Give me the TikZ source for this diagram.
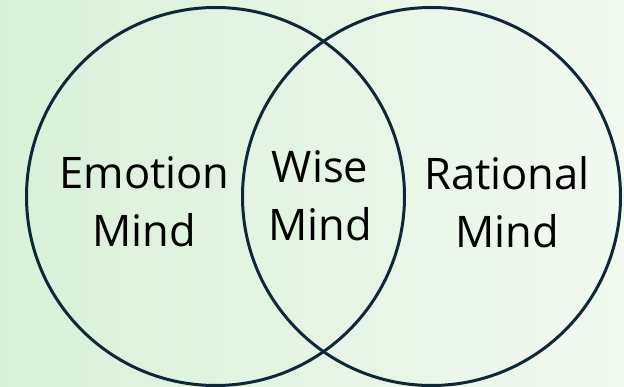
\documentclass[tikz,border=0pt]{standalone}
\usepackage{fontspec}
\setmainfont{Open Sans}
\definecolor{bgleft}{RGB}{217,240,216}
\definecolor{bgright}{RGB}{241,249,240}
\definecolor{ringcol}{RGB}{14,40,58}
\tikzset{
  ring/.style={draw=ringcol, line width=3pt, circle, minimum size=378pt, inner sep=0pt},
  lbl/.style={align=center, font=\fontsize{43.5}{58}\selectfont, text=black, inner sep=0pt}
}
\begin{document}
\begin{tikzpicture}[x=1pt,y=-1pt]
\useasboundingbox (0,0) rectangle (624,387);
\shade[left color=bgleft, right color=bgright] (0,0) rectangle (624,387);
\node[ring] (left) at (215.5,196.5) {};
\node[ring] (right) at (431.5,196.5) {};
\node[lbl] (emotion) at (144.5,202) {Emotion\\Mind};
\node[lbl] (wise) at (320,196) {Wise\\Mind};
\node[lbl] (rational) at (507,202) {Rational\\Mind};
\end{tikzpicture}
\end{document}
